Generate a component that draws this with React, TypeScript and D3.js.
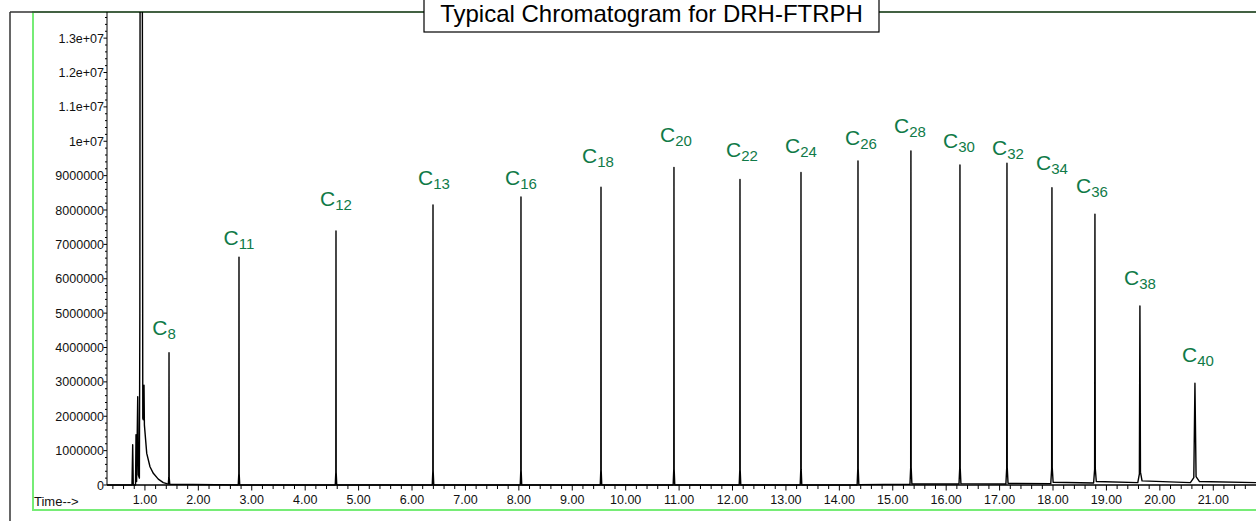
import React from "react";
import * as d3 from "d3";

// n-alkane peaks (retention time in min, abundance)
const carbons = [8, 11, 12, 13, 16, 18, 20, 22, 24, 26, 28, 30, 32, 34, 36, 38, 40];
const peakTimes = [1.451, 2.761, 4.577, 6.393, 8.04, 9.538, 10.904, 12.14, 13.282, 14.349, 15.34, 16.258, 17.138, 17.98, 18.785, 19.627, 20.657];
const peakHeights = [3.85e6, 6.63e6, 7.39e6, 8.15e6, 8.38e6, 8.66e6, 9.24e6, 8.89e6, 9.09e6, 9.43e6, 9.72e6, 9.31e6, 9.36e6, 8.65e6, 7.88e6, 5.21e6, 2.96e6];
const peakWidths = [0.014, 0.014, 0.014, 0.014, 0.014, 0.014, 0.015, 0.015, 0.015, 0.016, 0.018, 0.018, 0.02, 0.022, 0.025, 0.04, 0.085];
const baseBefore = [0.03e6, 0, 0, 0, 0, 0, 0, 0, 0, 0, 0.02e6, 0.03e6, 0.03e6, 0.04e6, 0.06e6, 0.07e6, 0.07e6];
const baseAfter = [0.02e6, 0, 0, 0, 0, 0, 0, 0, 0, 0.01e6, 0.03e6, 0.04e6, 0.05e6, 0.08e6, 0.1e6, 0.12e6, 0.1e6];

// where the green "Cn" annotations sit (time, abundance of the C baseline)
const labelTimes = [1.357, 2.761, 4.577, 6.411, 8.04, 9.481, 10.941, 12.177, 13.281, 14.404, 15.322, 16.239, 17.157, 17.98, 18.729, 19.627, 20.713];
const labelLevels = [4.36e6, 6.98e6, 8.12e6, 8.73e6, 8.73e6, 9.37e6, 9.98e6, 9.54e6, 9.66e6, 9.89e6, 10.24e6, 9.8e6, 9.6e6, 9.16e6, 8.49e6, 5.82e6, 3.58e6];

// solvent front and its tail, before C8
const solventFront: [number, number][] = [
  [0.29, 0], [0.758, 0], [0.771, 1.17e6], [0.782, 0], [0.824, 0], [0.833, 1.46e6],
  [0.844, 0.1e6], [0.865, 2.57e6], [0.876, 0.3e6], [0.896, 0.2e6], [0.905, 5e6],
  [0.909, 1.4e7], [0.928, 4e7], [0.952, 1.4e7], [0.96, 1.94e6], [0.969, 1.9e6],
  [0.983, 2.9e6], [0.99, 1.75e6], [1.034, 0.92e6], [1.095, 0.53e6], [1.157, 0.34e6],
  [1.25, 0.17e6], [1.344, 0.07e6], [1.41, 0.04e6],
];
const endOfRun: [number, number] = [21.8, 0.07e6];

const xMajorTicks = d3.range(1, 22);
const yMajorTicks = d3.range(0, 13).map((i) => i * 1e6).concat([1.3e7]);

const title = "Typical Chromatogram for DRH-FTRPH";
const font = "'Liberation Sans', Arial, Helvetica, sans-serif";
const green = "#107a48";

function fmtY(v: number) {
  if (v >= 1e7) return `${+(v / 1e7).toFixed(1)}e+07`;
  return String(Math.round(v));
}

export default function App() {
  const width = 1256;
  const height = 521;
  const left = 107;
  const top = 12;
  const bottom = 485;

  const x = d3.scaleLinear().domain([0.29, 21.8]).range([left, width]);
  const y = d3.scaleLinear().domain([0, 1.376e7]).range([bottom, top]);

  const trace: [number, number][] = [...solventFront];
  peakTimes.forEach((t, i) => {
    const w = peakWidths[i];
    const b0 = baseBefore[i];
    const b1 = baseAfter[i];
    const h = peakHeights[i];
    trace.push([t - w, b0]);
    trace.push([t - w * 0.25, b0 + (h - b0) * 0.05]);
    trace.push([t, h]);
    trace.push([t + w * 0.25, b1 + (h - b1) * 0.05]);
    trace.push([t + w, b1]);
  });
  trace.push(endOfRun);

  const line = d3
    .line<[number, number]>()
    .x((d) => x(d[0]))
    .y((d) => y(d[1]));

  const xMinor = d3.range(2, 109).map((i) => i * 0.2).filter((t) => Math.abs(t - Math.round(t)) > 0.01);
  const yMinor = d3.range(0, 69).map((i) => i * 2e5).filter((v) => v % 1e6 !== 0);

  return (
    <svg
      width={width}
      height={height}
      style={{ position: "absolute", left: 0, top: 0, background: "#fff" }}
      fontFamily={font}
    >
      <defs>
        <clipPath id="plot-clip">
          <rect x={left} y={top} width={width - left} height={height - top} />
        </clipPath>
      </defs>

      {/* green plot frame */}
      <rect x={33} y={top} width={width} height={510 - top} fill="none" stroke="#76ec76" strokeWidth={2} />

      {/* outer black frame */}
      <line x1={10} x2={10} y1={top} y2={height} stroke="#333" strokeWidth={1.5} />
      <line x1={10} x2={width} y1={top} y2={top} stroke="#333" strokeWidth={1.5} />

      {/* y axis */}
      <line x1={left} x2={left} y1={top} y2={bottom} stroke="#000" strokeWidth={1} />
      {yMinor.map((v) => (
        <line key={"ym" + v} x1={left - 2} x2={left} y1={y(v)} y2={y(v)} stroke="#000" strokeWidth={1} />
      ))}
      {yMajorTicks.map((v) => (
        <g key={"y" + v}>
          <line x1={left - 3.5} x2={left} y1={y(v)} y2={y(v)} stroke="#000" strokeWidth={1} />
          <text x={left - 3} y={y(v)} dy="0.36em" textAnchor="end" fontSize={12.5} fill="#111">
            {fmtY(v)}
          </text>
        </g>
      ))}

      {/* x axis */}
      <line x1={left} x2={width} y1={bottom} y2={bottom} stroke="#000" strokeWidth={1.5} />
      {xMinor.map((t) => (
        <line key={"xm" + t} x1={x(t)} x2={x(t)} y1={bottom} y2={bottom + 4} stroke="#000" strokeWidth={1} />
      ))}
      {xMajorTicks.map((t) => (
        <g key={"x" + t}>
          <line x1={x(t)} x2={x(t)} y1={bottom} y2={bottom + 5.5} stroke="#000" strokeWidth={1} />
          <text x={x(t)} y={504} textAnchor="middle" fontSize={12.5} fill="#111">
            {t.toFixed(2)}
          </text>
        </g>
      ))}
      <text x={34} y={506} fontSize={13} fill="#111">
        Time--&gt;
      </text>

      {/* chromatogram trace */}
      <path
        d={line(trace) || ""}
        fill="none"
        stroke="#000"
        strokeWidth={1.4}
        strokeLinejoin="round"
        clipPath="url(#plot-clip)"
      />

      {/* peak labels */}
      {carbons.map((c, i) => (
        <text key={"c" + c} x={x(labelTimes[i])} y={y(labelLevels[i])} textAnchor="middle" fill={green}>
          <tspan fontSize={21}>C</tspan>
          <tspan fontSize={15} dy={4}>
            {c}
          </tspan>
        </text>
      ))}

      {/* title box */}
      <rect x={424} y={-2} width={455} height={34} fill="#fff" stroke="#000" strokeWidth={1.2} />
      <text x={651.5} y={22} textAnchor="middle" fontSize={24} fill="#000">
        {title}
      </text>
    </svg>
  );
}
